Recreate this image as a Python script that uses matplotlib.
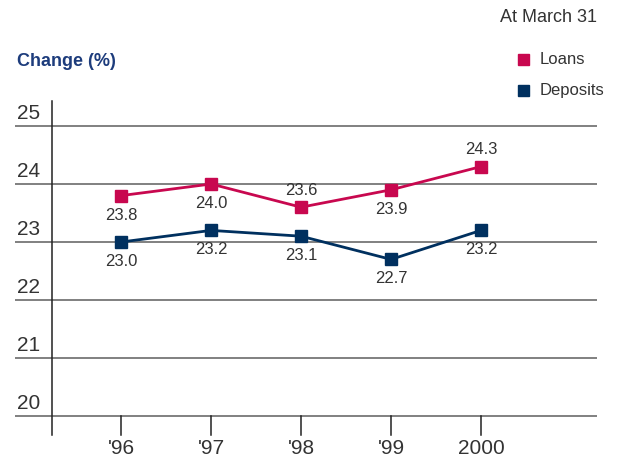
import matplotlib.pyplot as plt

# data
years = ["'96", "'97", "'98", "'99", "2000"]
loans = [23.8, 24.0, 23.6, 23.9, 24.3]
deposits = [23.0, 23.2, 23.1, 22.7, 23.2]
y_ticks = [20, 21, 22, 23, 24, 25]

# label placement: +1 above the marker, -1 below
loans_side = [-1, -1, 1, -1, 1]
deposits_side = [-1, -1, -1, -1, -1]

loan_col = '#c8084f'
dep_col = '#00305f'
text_col = '#333333'

plt.rcParams['font.family'] = ['Liberation Sans', 'DejaVu Sans']

fig = plt.figure(figsize=(6.17, 4.57), dpi=100)
ax = fig.add_axes([15 / 617, 1 - 439.2 / 457, 582 / 617, (439.2 - 97) / 457])
ax.set_xlim(-1.18, 5.29)
ax.set_ylim(19.6, 25.5)
ax.axis('off')

x = list(range(len(years)))

# horizontal gridlines + value labels on the left
for v in y_ticks:
    ax.axhline(v, color='#6b6b6b', lw=1.2, zorder=1)
    ax.text(-1.16, v + 0.06, str(v), ha='left', va='bottom',
            fontsize=15, color=text_col)

# vertical axis line and year ticks
ax.plot([-0.767, -0.767], [19.67, 25.43], color='#222222', lw=1.1, zorder=2)
for i, lab in zip(x, years):
    ax.plot([i, i], [20, 19.67], color='#222222', lw=1.1, zorder=2)
    # year labels sit at the very bottom of the figure
    ax.annotate(lab, (i, 0), xycoords=('data', 'figure pixels'), xytext=(0, 2.5),
                textcoords='offset pixels', ha='center', va='baseline',
                fontsize=15, color=text_col)

ax.plot(x, loans, color=loan_col, lw=2, marker='s', ms=8.5, zorder=4)
ax.plot(x, deposits, color=dep_col, lw=2, marker='s', ms=8.5, zorder=4)

for xs, vals, sides in [(x, loans, loans_side), (x, deposits, deposits_side)]:
    for i, v, s in zip(xs, vals, sides):
        off = 12 if s > 0 else -14
        ax.annotate('%.1f' % v, (i, v), xytext=(0, off), textcoords='offset points',
                    ha='center', va='center', fontsize=12, color=text_col)

# header texts
fig.text(597 / 617, 1 - 18 / 457, 'At March 31', ha='right', va='center',
         fontsize=13, color=text_col)
fig.text(17 / 617, 1 - 62 / 457, 'Change (%)', ha='left', va='center',
         fontsize=13, fontweight='bold', color='#1d3c7c')

# legend drawn by hand
for yy, lab, col in [(60, 'Loans', loan_col), (91, 'Deposits', dep_col)]:
    fig.patches.append(plt.Rectangle((518 / 617, 1 - (yy + 5) / 457), 11 / 617, 11 / 457,
                                     transform=fig.transFigure, color=col))
    fig.text(540 / 617, 1 - yy / 457, lab, ha='left', va='center',
             fontsize=12, color=text_col)

fig.savefig('out.png', dpi=100)
